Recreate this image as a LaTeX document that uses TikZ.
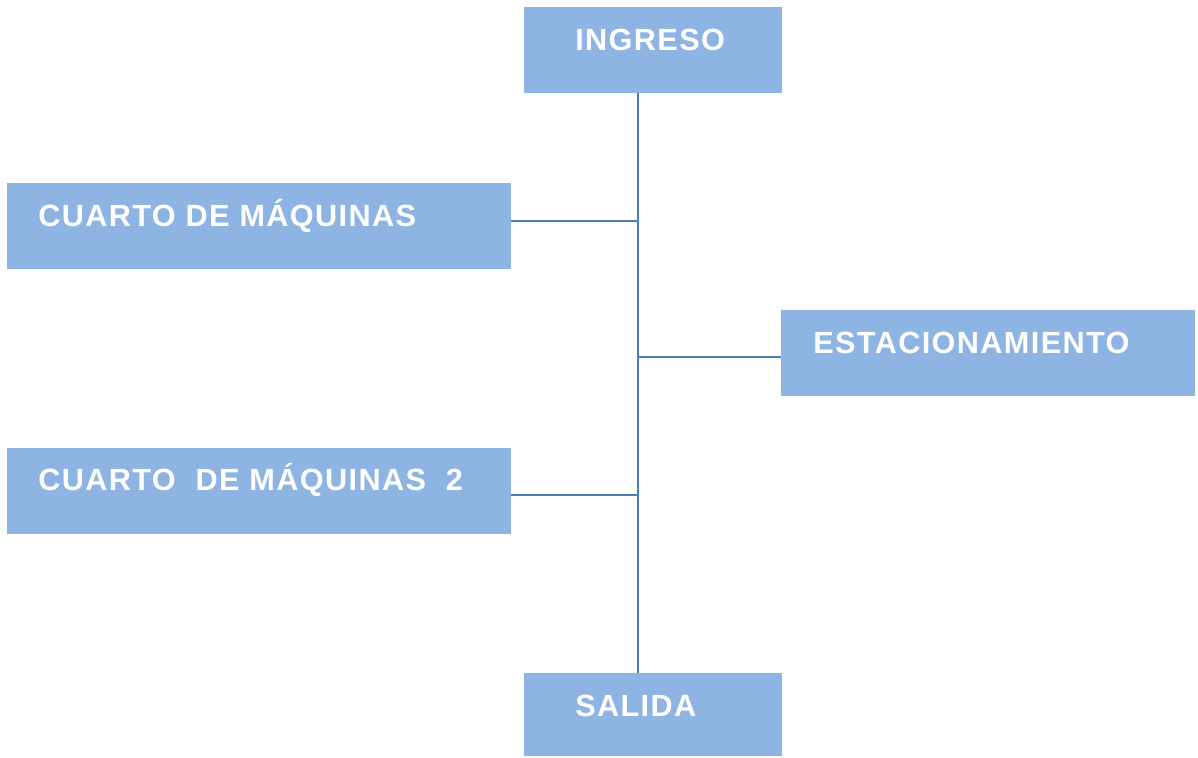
\documentclass[tikz,border=0pt]{standalone}
\usepackage{fontspec}
\setmainfont{Liberation Sans}[LetterSpace=4.5]
\definecolor{boxfill}{HTML}{8EB4E3}
\definecolor{linecol}{HTML}{4A7EBB}
\begin{document}
\begin{tikzpicture}[x=0.75pt,y=-0.75pt,
  area/.style={fill=boxfill,draw=none,inner sep=0pt},
  lbl/.style={anchor=base west,inner sep=0pt,text=white,font=\fontsize{23}{27}\selectfont\bfseries},
  conn/.style={draw=linecol,line width=1.5pt}]
\useasboundingbox (0,0) rectangle (1198,757);
% boxes
\path[area] (524,7) rectangle (782,93);
\path[area] (7,183) rectangle (511,269);
\path[area] (781,310) rectangle (1195,396);
\path[area] (7,448) rectangle (511,534);
\path[area] (524,673) rectangle (782,756);
\coordinate (ing) at (638,93);
\coordinate (sal) at (638,673);
\coordinate (cm1) at (511,221);
\coordinate (est) at (781,357);
\coordinate (cm2) at (511,495);
\coordinate (j1) at (638,221);
\coordinate (j2) at (638,357);
\coordinate (j3) at (638,495);
% labels
\node[lbl] (t1) at (575,50) {INGRESO};
\node[lbl] (t2) at (38,226) {CUARTO DE MÁQUINAS};
\node[lbl] (t3) at (813,353) {ESTACIONAMIENTO};
\node[lbl] (t4) at (38,490) {CUARTO\ \ DE MÁQUINAS\ \ 2};
\node[lbl] (t5) at (575,716) {SALIDA};
% connectors
\draw[conn] (ing) -- (sal);
\draw[conn] (cm1) -- (j1);
\draw[conn] (j2) -- (est);
\draw[conn] (cm2) -- (j3);
\end{tikzpicture}
\end{document}
